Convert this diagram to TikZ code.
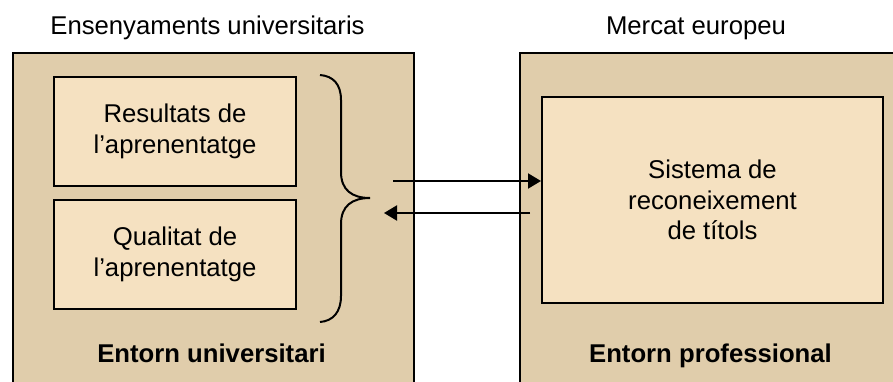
\documentclass[tikz,border=0pt]{standalone}
\usepackage{fontspec}
\setmainfont{Liberation Sans}
\usetikzlibrary{arrows.meta}
\definecolor{outerfill}{RGB}{224,205,171}
\definecolor{innerfill}{RGB}{245,225,193}
\begin{document}
\begin{tikzpicture}[x=1pt,y=-1pt,
  txt/.style={font=\fontsize{25.7pt}{30.5pt}\selectfont, align=center, inner sep=0pt},
  boldtxt/.style={txt, font=\fontsize{25.7pt}{30.5pt}\selectfont\bfseries},
  outerbox/.style={draw=black, line width=2pt, fill=outerfill, anchor=north west, inner sep=0pt},
  innerbox/.style={draw=black, line width=2pt, fill=innerfill, anchor=north west, inner sep=0pt,
    font=\fontsize{25.7pt}{30.5pt}\selectfont, align=center},
  conn/.style={line width=2pt, -{Triangle[length=13pt,width=15pt]}},
  bracepath/.style={line width=2pt}]
\useasboundingbox (0,0) rectangle (893,381);
\fill[white] (0,0) rectangle (893,381);
\begin{scope}
\clip (0,0) rectangle (893,381);
\node[outerbox, minimum width=401pt, minimum height=360pt] (univ) at (12,52) {};
\node[outerbox, minimum width=390pt, minimum height=360pt] (prof) at (519,52) {};
\end{scope}
\node[innerbox, minimum width=242pt, minimum height=109pt] (res) at (53,76) {Resultats de\\l’aprenentatge};
\node[innerbox, minimum width=242pt, minimum height=109pt] (qual) at (53,199) {Qualitat de\\l’aprenentatge};
\node[innerbox, minimum width=341pt, minimum height=206pt] (sys) at (541,96) {Sistema de\\reconeixement\\de títols};
\node[txt, anchor=base] (t1) at (207.5,34) {Ensenyaments universitaris};
\node[txt, anchor=base] (t2) at (696,34) {Mercat europeu};
\node[boldtxt, anchor=base] (b1) at (211.5,362) {Entorn universitari};
\node[boldtxt, anchor=base] (b2) at (710.5,362) {Entorn professional};
% brace
\coordinate (btop) at (320,75);
\coordinate (btip) at (370,198);
\coordinate (bbot) at (320,322);
\draw[bracepath] (btop) .. controls (333,76) and (341,84) .. (341,100)
  -- (341,172) .. controls (341,190) and (352,198) .. (btip)
  .. controls (352,198) and (341,206) .. (341,224)
  -- (341,296) .. controls (341,312) and (333,321) .. (bbot);
% arrows
\coordinate (a1s) at (393,181);
\coordinate (a2s) at (530,213);
\coordinate (a2e) at (384,213);
\draw[conn] (a1s) -- (sys.west |- a1s);
\draw[conn] (a2s) -- (a2e);
\end{tikzpicture}
\end{document}
